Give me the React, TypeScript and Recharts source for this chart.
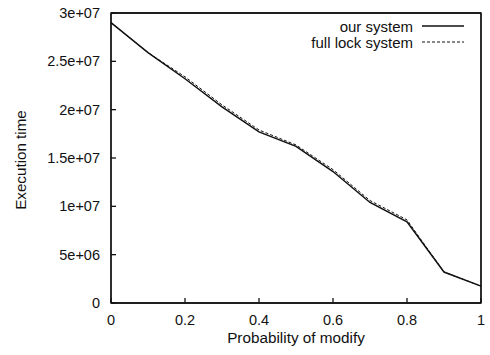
import { Line, LineChart, ReferenceArea, XAxis, YAxis } from "recharts";

const PROBABILITY = [0, 0.1, 0.2, 0.3, 0.4, 0.5, 0.6, 0.7, 0.8, 0.9, 1];
const OUR_SYSTEM = [2.9e7, 2.59e7, 2.32e7, 2.03e7, 1.77e7, 1.62e7, 1.36e7, 1.04e7, 8.4e6, 3.2e6, 1.75e6];
const FULL_LOCK = [2.9e7, 2.59e7, 2.34e7, 2.05e7, 1.79e7, 1.635e7, 1.38e7, 1.06e7, 8.6e6, 3.2e6, 1.75e6];

const X_TICKS = [0, 0.2, 0.4, 0.6, 0.8, 1];
const Y_TICKS = [0, 5e6, 1e7, 1.5e7, 2e7, 2.5e7, 3e7];
const Y_TICK_LABELS = ["0", "5e+06", "1e+07", "1.5e+07", "2e+07", "2.5e+07", "3e+07"];
const LEGEND = [
  { name: "our system", width: 1.5, dash: undefined },
  { name: "full lock system", width: 1, dash: "3 2" },
];

const data = PROBABILITY.map((p, i) => ({ p, our: OUR_SYSTEM[i], full: FULL_LOCK[i] }));

const FONT = "'Liberation Sans', Arial, Helvetica, sans-serif";
const INK = "#111";

export default function App() {
  const tickStyle = { fill: INK, fontSize: 14.5, fontFamily: FONT };
  return (
    <div style={{ position: "absolute", left: 0, top: 0, width: 490, height: 355, background: "#fff" }}>
      <LineChart width={490} height={355} data={data} margin={{ top: 10, right: 6, left: 0, bottom: 0 }}>
        <XAxis
          dataKey="p"
          type="number"
          domain={[0, 1]}
          ticks={X_TICKS}
          height={52}
          tickSize={-5}
          tickMargin={17}
          tick={tickStyle}
          stroke={INK}
          strokeWidth={1.3}
        />
        <XAxis
          xAxisId="top"
          dataKey="p"
          type="number"
          orientation="top"
          domain={[0, 1]}
          ticks={X_TICKS}
          height={3}
          tick={false}
          tickLine={false}
          stroke={INK}
          strokeWidth={1.3}
        />
        <YAxis
          type="number"
          domain={[0, 3e7]}
          ticks={Y_TICKS}
          width={111}
          tickSize={-5}
          tickMargin={16}
          tick={tickStyle}
          tickFormatter={(v: number) => Y_TICK_LABELS[Y_TICKS.indexOf(v)] ?? String(v)}
          stroke={INK}
          strokeWidth={1.3}
        />
        <YAxis
          yAxisId="right"
          type="number"
          orientation="right"
          domain={[0, 3e7]}
          ticks={Y_TICKS}
          width={3}
          tick={false}
          tickLine={false}
          stroke={INK}
          strokeWidth={1.3}
        />
        <ReferenceArea
          x1={0}
          x2={1}
          y1={0}
          y2={3e7}
          fill="#ffffff"
          fillOpacity={0}
          stroke={INK}
          strokeWidth={1.3}
          ifOverflow="visible"
        />
        <Line dataKey="our" name="our system" stroke={INK} strokeWidth={1.5} dot={false} isAnimationActive={false} />
        <Line
          dataKey="full"
          name="full lock system"
          xAxisId="top"
          yAxisId="right"
          stroke={INK}
          strokeWidth={1}
          strokeDasharray="3 2"
          dot={false}
          isAnimationActive={false}
        />
      </LineChart>
      <svg
        width={490}
        height={355}
        style={{ position: "absolute", left: 0, top: 0, pointerEvents: "none" }}
      >
        <text x={296} y={343} textAnchor="middle" fontFamily={FONT} fontSize={15.3} fill={INK}>
          Probability of modify
        </text>
        <text
          x={20}
          y={160}
          transform="rotate(-90, 20, 160)"
          textAnchor="middle"
          dominantBaseline="central"
          fontFamily={FONT}
          fontSize={15.2}
          fill={INK}
        >
          Execution time
        </text>
        {LEGEND.map((item, i) => {
          const y = 26 + i * 16;
          return (
            <g key={item.name}>
              <text x={413} y={y + 5.5} textAnchor="end" fontFamily={FONT} fontSize={15} fill={INK}>
                {item.name}
              </text>
              <line x1={422} x2={464} y1={y} y2={y} stroke={INK} strokeWidth={item.width} strokeDasharray={item.dash} />
            </g>
          );
        })}
      </svg>
    </div>
  );
}
